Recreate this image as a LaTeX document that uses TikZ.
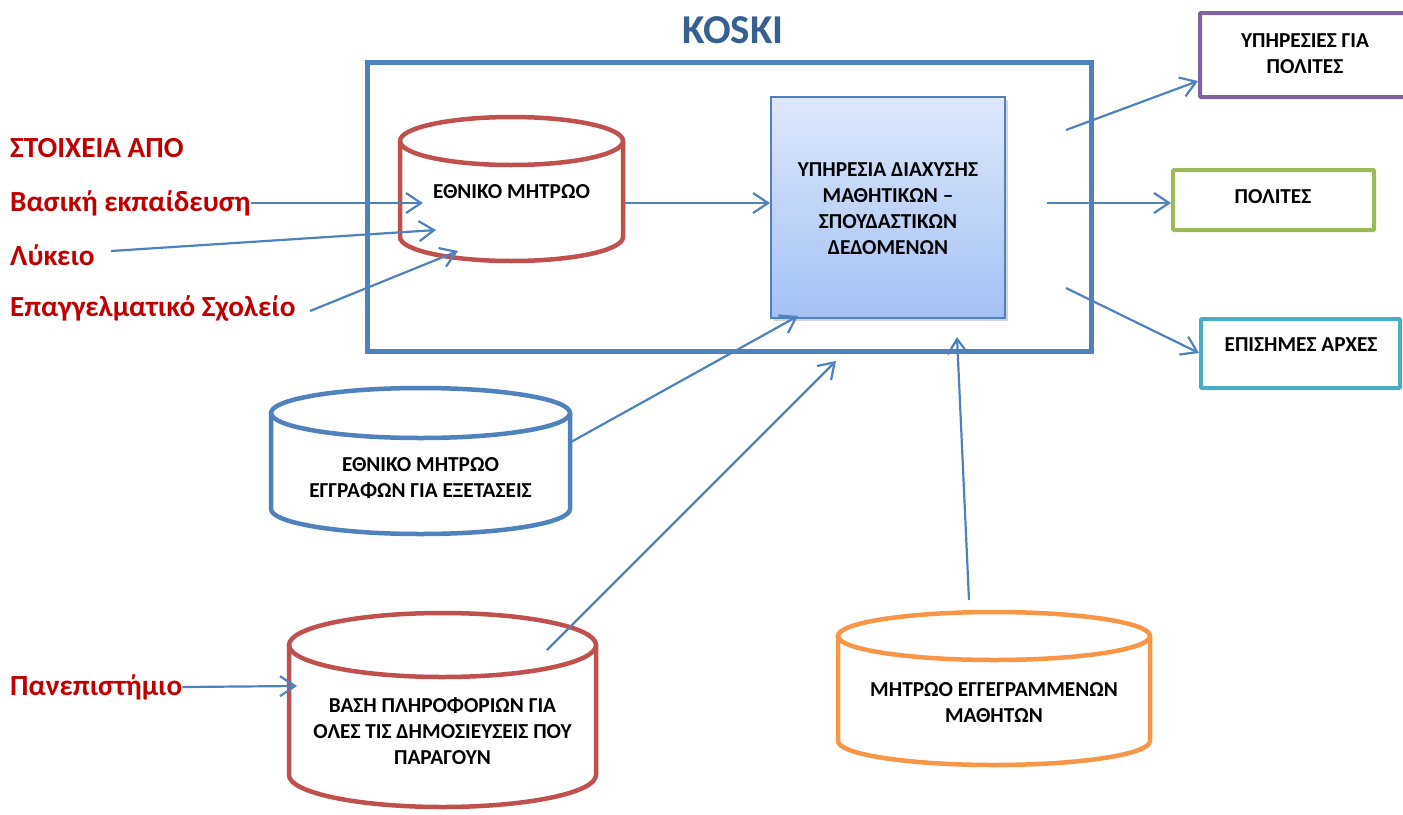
\documentclass[tikz,border=0pt]{standalone}
\usepackage{fontspec}
\setmainfont{Carlito}
\usetikzlibrary{arrows.meta,shadows}
\definecolor{cred}{HTML}{C0504D}
\definecolor{cblue}{HTML}{4F81BD}
\definecolor{corange}{HTML}{F79646}
\definecolor{cpurple}{HTML}{8064A2}
\definecolor{cgreen}{HTML}{9BBB59}
\definecolor{ccyan}{HTML}{4BACC6}
\definecolor{tred}{HTML}{C00000}
\definecolor{ttitle}{HTML}{376092}
\definecolor{gtop}{HTML}{DEE8FB}
\definecolor{gbot}{HTML}{A3C1F5}
\newcommand\drawcyl[7]{% color, xl, xr, ytop, ybot, rx, ry
  \draw[#1, line width=4.5pt, fill=white] (#2,#4) -- (#2,#5)
    arc[start angle=180, end angle=0, x radius=#6, y radius=#7] -- (#3,#4);
  \draw[#1, line width=4.5pt] ({(#2+#3)/2},#4) ellipse [x radius=#6, y radius=#7];
}
\begin{document}
\begin{tikzpicture}[x=1pt,y=-1pt,
  conn/.style={draw=cblue, line width=2.2pt, -{Straight Barb[length=15pt,width=20pt,line width=2.2pt]}},
  boxtext/.style={font=\fontsize{21.3}{26}\selectfont\bfseries, align=center, text=black, inner sep=0pt},
  lefttext/.style={font=\fontsize{29.2}{32}\selectfont\bfseries, text=tred, anchor=west, inner sep=0pt},
  outbox/.style={draw=#1, line width=4pt, fill=white, inner sep=0pt, rounded corners=1pt},
]
\useasboundingbox (0,0) rectangle (1403,814);

% title
\node[font=\fontsize{41}{44}\selectfont\bfseries, text=ttitle] (title) at (733,30) {KOSKI};

% KOSKI frame
\node[draw=cblue, line width=5pt, minimum width=724pt, minimum height=289pt, inner sep=0pt] (frame) at (729,206.5) {};

% cylinders
\drawcyl{cred}{400}{623}{141}{237}{111.5}{24}
\node[boxtext] (emr) at (511.5,192) {ΕΘΝΙΚΟ ΜΗΤΡΩΟ};

\drawcyl{cblue}{271}{570}{413}{509}{149.5}{25}
\node[boxtext] (emreg) at (420.5,478) {ΕΘΝΙΚΟ ΜΗΤΡΩΟ\\ΕΓΓΡΑΦΩΝ ΓΙΑ ΕΞΕΤΑΣΕΙΣ};

\drawcyl{cred}{289}{596}{645}{775}{153.5}{32}
\node[boxtext] (vasi) at (442.5,731) {ΒΑΣΗ ΠΛΗΡΟΦΟΡΙΩΝ ΓΙΑ\\ΟΛΕΣ ΤΙΣ ΔΗΜΟΣΙΕΥΣΕΙΣ ΠΟΥ\\ΠΑΡΑΓΟΥΝ};

\drawcyl{corange}{838}{1150}{636}{741}{156}{24}
\node[boxtext] (mitroo) at (994,703) {ΜΗΤΡΩΟ ΕΓΓΕΓΡΑΜΜΕΝΩΝ\\ΜΑΘΗΤΩΝ};

% process box
\node[draw=cblue, line width=1.5pt, top color=gtop, bottom color=gbot,
      drop shadow={shadow xshift=3pt, shadow yshift=-3pt, opacity=0.35},
      minimum width=234pt, minimum height=221pt, inner sep=0pt] (proc) at (888,207.5) {};
\node[boxtext] (proctext) at (888,209) {ΥΠΗΡΕΣΙΑ ΔΙΑΧΥΣΗΣ\\ΜΑΘΗΤΙΚΩΝ –\\ΣΠΟΥΔΑΣΤΙΚΩΝ\\ΔΕΔΟΜΕΝΩΝ};

% output boxes
\node[outbox=cpurple, minimum width=212pt, minimum height=84pt] (ypir) at (1306,55) {};
\node[boxtext] (ypirtext) at (1305,54) {ΥΠΗΡΕΣΙΕΣ ΓΙΑ\\ΠΟΛΙΤΕΣ};
\node[outbox=cgreen, minimum width=201pt, minimum height=60pt] (polites) at (1273.5,200) {};
\node[boxtext] (politestext) at (1273,197) {ΠΟΛΙΤΕΣ};
\node[outbox=ccyan, minimum width=199pt, minimum height=69pt] (arxes) at (1300.5,353.5) {};
\node[boxtext] (arxestext) at (1301,345) {ΕΠΙΣΗΜΕΣ ΑΡΧΕΣ};

% left texts
\node[lefttext] (stoixeia) at (10,148) {ΣΤΟΙΧΕΙΑ ΑΠΟ};
\node[lefttext] (vasiki) at (10,203) {Βασική εκπαίδευση};
\node[lefttext] (lykeio) at (10,255) {Λύκειο};
\node[lefttext] (epag) at (10,308) {Επαγγελματικό Σχολείο};
\node[lefttext] (panep) at (10,687) {Πανεπιστήμιο};

% connector end points
\coordinate (a1) at (423,203);
\coordinate (a2s) at (111,251);
\coordinate (a2) at (436,230);
\coordinate (a3s) at (310,311);
\coordinate (a3) at (458,251);
\coordinate (b1s) at (625,203);
\coordinate (b1) at (770,203);
\coordinate (c1s) at (571,442);
\coordinate (c1) at (798,316);
\coordinate (d1s) at (547,650);
\coordinate (d1) at (836,361);
\coordinate (e1s) at (969,600);
\coordinate (e1) at (957,337);
\coordinate (f1) at (297,686);
\coordinate (o1s) at (1066,130);
\coordinate (o1) at (1198,81);
\coordinate (o2s) at (1047,203);
\coordinate (o2) at (1171,203);
\coordinate (o3s) at (1066,288);
\coordinate (o3) at (1199,353);

% connectors
\draw[conn] (vasiki.east) -- (a1);
\draw[conn] (a2s) -- (a2);
\draw[conn] (a3s) -- (a3);
\draw[conn] (b1s) -- (b1);
\draw[conn] (c1s) -- (c1);
\draw[conn] (d1s) -- (d1);
\draw[conn] (e1s) -- (e1);
\draw[conn] (panep.east) -- (f1);
\draw[conn] (o1s) -- (o1);
\draw[conn] (o2s) -- (o2);
\draw[conn] (o3s) -- (o3);
\end{tikzpicture}
\end{document}
